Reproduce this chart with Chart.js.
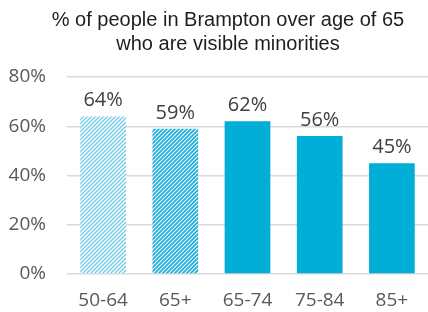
<!DOCTYPE html>
<html>
<head>
<meta charset="utf-8">
<script src="https://cdn.jsdelivr.net/npm/chart.js@4/dist/chart.umd.min.js"></script>
<style>
  html, body { margin: 0; padding: 0; background: #fff; }
  #wrap { width: 428px; height: 312px; position: relative; }
</style>
</head>
<body>
<div id="wrap"><canvas id="myChart" width="428" height="312"></canvas></div>
<script>
const titleLines = ["% of people in Brampton over age of 65", "who are visible minorities"];
const ageGroups  = ["50-64", "65+", "65-74", "75-84", "85+"];
const shares     = [64, 59, 62, 56, 45];
const yTicks     = [0, 20, 40, 60, 80];

// striped tile for the hatched bars
function stripes(fg, width) {
  const c = document.createElement('canvas');
  c.width = 4; c.height = 4;
  const g = c.getContext('2d');
  g.fillStyle = '#fff';
  g.fillRect(0, 0, 4, 4);
  g.strokeStyle = fg;
  g.lineWidth = width;
  g.beginPath();
  g.moveTo(-1, 5); g.lineTo(5, -1);
  g.moveTo(-1, 1); g.lineTo(1, -1);
  g.moveTo(3, 5); g.lineTo(5, 3);
  g.stroke();
  return g.createPattern(c, 'repeat');
}

const ctx = document.getElementById('myChart').getContext('2d');
const fills = [stripes('#6fcbe8', 1.3), stripes('#1fb1db', 1.8), '#00aed8', '#00aed8', '#00aed8'];

const titlePlugin = {
  id: 'titleText',
  afterDraw(chart) {
    const c = chart.ctx;
    c.save();
    c.fillStyle = '#1e1e1e';
    c.font = '20px "Liberation Sans", Arial, sans-serif';
    c.textAlign = 'center';
    c.textBaseline = 'middle';
    c.fillText(titleLines[0], 228, 20);
    c.fillText(titleLines[1], 228, 44);
    c.restore();
  }
};

const valueLabels = {
  id: 'valueLabels',
  afterDatasetsDraw(chart) {
    const c = chart.ctx;
    const meta = chart.getDatasetMeta(0);
    c.save();
    c.fillStyle = '#404040';
    c.font = '20px "Open Sans", sans-serif';
    c.textAlign = 'center';
    c.textBaseline = 'alphabetic';
    meta.data.forEach((bar, i) => {
      c.fillText(shares[i] + '%', bar.x, bar.y - 10);
    });
    c.restore();
  }
};

new Chart(ctx, {
  type: 'bar',
  data: {
    labels: ageGroups,
    datasets: [{
      data: shares,
      backgroundColor: fills,
      borderWidth: 0,
      categoryPercentage: 1,
      barPercentage: 0.633
    }]
  },
  options: {
    responsive: false,
    animation: false,
    layout: { padding: { top: 77, right: -3, left: 0, bottom: 0 } },
    plugins: {
      legend: { display: false },
      tooltip: { enabled: false },
      title: { display: false }
    },
    scales: {
      x: {
        grid: { display: false, drawTicks: false },
        border: { display: false },
        afterFit(axis) { axis.height = 38; },
        ticks: {
          color: '#595959',
          font: { family: 'Open Sans', size: 19 },
          padding: 15
        }
      },
      y: {
        min: 0,
        max: 80,
        afterBuildTicks(axis) { axis.ticks = yTicks.map(v => ({ value: v })); },
        afterFit(axis) { axis.width = 67; },
        grid: { color: '#d9d9d9', lineWidth: 1.5, drawTicks: false },
        border: { display: false },
        ticks: {
          color: '#595959',
          font: { family: 'Open Sans', size: 19 },
          padding: 21,
          callback: v => v + '%'
        }
      }
    }
  },
  plugins: [titlePlugin, valueLabels]
});
</script>
</body>
</html>
